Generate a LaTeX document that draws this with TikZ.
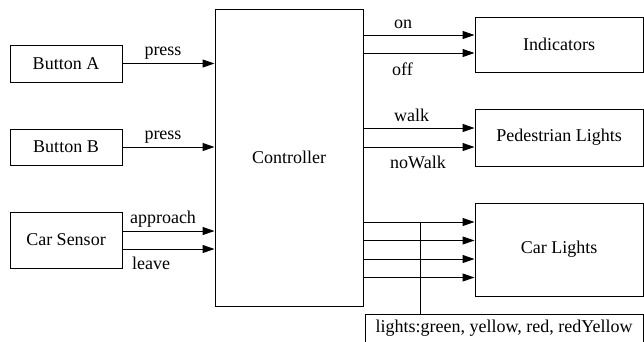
\documentclass[tikz,border=0pt]{standalone}
\usepackage{fontspec}
\setmainfont{Liberation Serif}
\usetikzlibrary{arrows.meta}
\begin{document}
\begin{tikzpicture}[x=1pt,y=-1pt,
  box/.style={draw=black,line width=1pt,minimum width=#1,inner sep=0pt,anchor=center},
  arr/.style={line width=1pt,-{Triangle[length=12pt,width=8pt]}},
  lab/.style={inner sep=0pt},
  every node/.style={font=\fontsize{18}{21}\selectfont}]
\useasboundingbox (0,0) rectangle (644,341);
\node[box=112pt,minimum height=37pt] (btnA) at (66,63.5) {Button A};
\node[box=112pt,minimum height=36pt] (btnB) at (66,147) {Button B};
\node[box=112pt,minimum height=56pt] (carS) at (66,240) {Car Sensor};
\node[box=148pt,minimum height=297pt] (ctrl) at (289,157.5) {Controller};
\node[box=168pt,minimum height=55pt] (ind) at (559,44.5) {Indicators};
\node[box=168pt,minimum height=57pt] (ped) at (559,137.5) {Pedestrian Lights};
\node[box=168pt,minimum height=93pt] (car) at (559,249.5) {Car Lights};
\node[box=278pt,minimum height=36pt] (lbl) at (504,332) {};
\node[lab,anchor=base] (lbltext) at (504,332) {lights:green, yellow, red, redYellow};
% inputs
\draw[arr] (btnA.east) -- (ctrl.west |- btnA.east);
\draw[arr] (btnB.east) -- (ctrl.west |- btnB.east);
\draw[arr] (carS.east |- 0,231) -- (ctrl.west |- 0,231);
\draw[arr] (carS.east |- 0,249) -- (ctrl.west |- 0,249);
\node[lab,anchor=base] (pA) at (163,55) {press};
\node[lab,anchor=base] (pB) at (163,139) {press};
\node[lab,anchor=base] (appr) at (163,223) {approach};
\node[lab,anchor=base west] (leave) at (132,269) {leave};
% outputs
\draw[arr] (ctrl.east |- 0,35) -- (ind.west |- 0,35);
\draw[arr] (ctrl.east |- 0,53) -- (ind.west |- 0,53);
\node[lab,anchor=base west] (on) at (394,28) {on};
\node[lab,anchor=base west] (off) at (392,75) {off};
\draw[arr] (ctrl.east |- 0,128) -- (ped.west |- 0,128);
\draw[arr] (ctrl.east |- 0,147) -- (ped.west |- 0,147);
\node[lab,anchor=base west] (walk) at (394,121) {walk};
\node[lab,anchor=base west] (nowalk) at (390,168) {noWalk};
\foreach \yy in {222,240.5,259,277.5}{
  \draw[arr] (ctrl.east |- 0,\yy) -- (car.west |- 0,\yy);
}
\coordinate (vtop) at (420,222);
\draw[line width=1pt] (vtop) -- (vtop |- lbl.north);
\end{tikzpicture}
\end{document}
